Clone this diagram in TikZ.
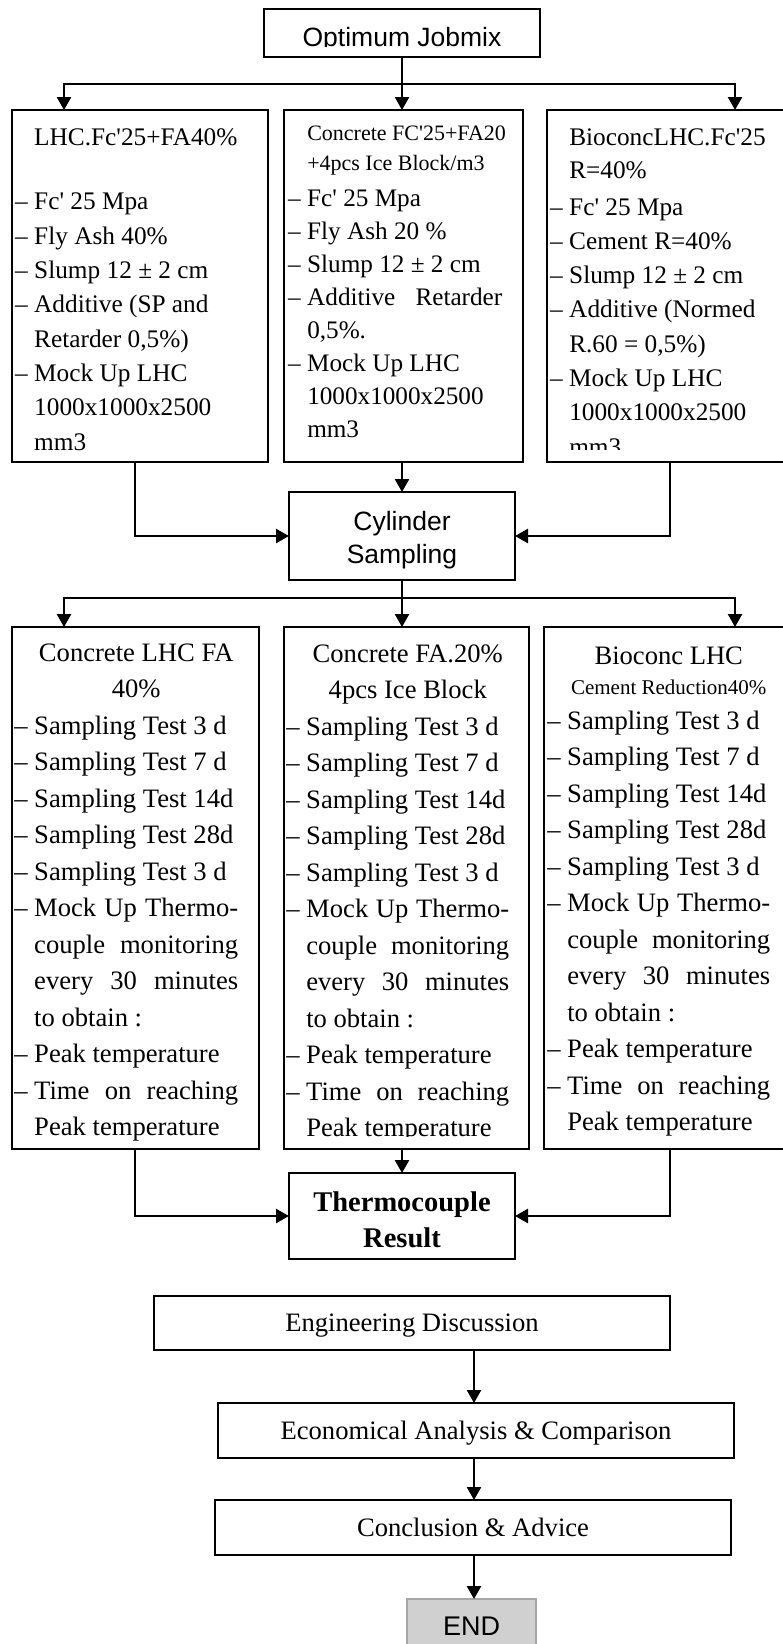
\documentclass[tikz,border=0pt]{standalone}
\usepackage{fontspec}
\setmainfont{Liberation Serif}
\newfontfamily\arialfont{Liberation Sans}
\usetikzlibrary{positioning, calc}
\usetikzlibrary{arrows.meta}

\definecolor{endfill}{HTML}{D0D0D0}
\definecolor{endline}{HTML}{A6A6A6}

% list helpers
\newcommand{\jw}{204pt}
\newcommand{\normsp}{\spaceskip=0pt\xspaceskip=0pt\relax}
\newcommand{\dl}{\leavevmode\llap{\textendash\hspace{6.5pt}}}
\newcommand{\jl}[1]{\makebox[\jw][s]{#1}}
\newcommand{\ctl}[1]{\makebox[\jw][c]{#1}}
\newcommand{\qs}{\textquotesingle}

\tikzset{
  box/.style={draw, rectangle, inner sep=0pt, outer sep=0pt},
  txt/.style={anchor=base west, inner sep=0pt, align=left, text width=240pt},
  arr/.style={-{Triangle[width=14pt,length=13pt]}},
  mask/.style={fill=white, draw=none}
}

\begin{document}
\begin{tikzpicture}[x=1pt, y=-1pt, line width=2.5pt]

  % page
  \useasboundingbox (0,0) rectangle (783,1644);
  \clip (0,0) rectangle (783,1644);

  % fonts
  \def\topfont{\fontsize{25.3}{34.3}\selectfont}
  \def\lowfont{\fontsize{26.6}{36.5}\selectfont}
  \def\smallfont{\fontsize{22}{33}\selectfont}
  \def\headfont{\arialfont\fontsize{26.5}{33}\selectfont}

  % start
  \node[box, minimum width=276pt, minimum height=48pt, font=\headfont,
        text height=26pt, text depth=0pt] (jobmix) at (402,33) {Optimum Jobmix};
  \fill[mask] (265.5,46.5) rectangle (538.5,55.5);

  % top boxes
  \node[box, anchor=north west, minimum width=256pt, minimum height=352pt] (box1) at (12,110) {};
  \node[box, anchor=north west, minimum width=239pt, minimum height=352pt] (box2) at (284,110) {};
  \node[box, anchor=north west, minimum width=260pt, minimum height=352pt] (box3) at (547,110) {};

  \node[txt, font=\topfont] (list1) at (33,145) {\normsp
    LHC.Fc\qs 25+FA40\%\\[30.6pt]
    \dl Fc\qs\ 25 Mpa\\
    \dl Fly Ash 40\%\\
    \dl Slump 12 \textpm\ 2 cm\\
    \dl Additive (SP and\\
    Retarder 0,5\%)\\
    \dl Mock Up LHC\\
    1000x1000x2500\\
    mm3};

  \node[txt, font=\fontsize{25.2}{33.1}\selectfont] (list2) at (306,140) {\normsp
    \def\jw{195pt}%
    {\smallfont Concrete FC\qs 25+FA20}\\[-3.1pt]
    {\smallfont +4pcs Ice Block/m3}\\[2.9pt]
    \dl Fc\qs\ 25 Mpa\\
    \dl Fly Ash 20 \%\\
    \dl Slump 12 \textpm\ 2 cm\\
    \dl\jl{Additive Retarder}\\
    0,5\%.\\
    \dl Mock Up LHC\\
    1000x1000x2500\\
    mm3};

  \node[txt, font=\topfont] (list3) at (568,145) {\normsp
    BioconcLHC.Fc\qs 25\\[-1.3pt]
    R=40\%\\[2.7pt]
    \dl Fc\qs\ 25 Mpa\\
    \dl Cement R=40\%\\
    \dl Slump 12 \textpm\ 2 cm\\
    \dl Additive (Normed\\
    R.60 = 0,5\%)\\
    \dl Mock Up LHC\\
    1000x1000x2500\\
    mm3};
  \fill[mask] (548.5,450) rectangle (790,460.5);

  % sampling
  \node[box, anchor=north west, minimum width=226pt, minimum height=88pt] (cyl) at (289,492) {};
  \node[anchor=base, inner sep=0pt, align=center, text width=226pt, font=\headfont] (cyltext) at (402,530) {Cylinder\\Sampling};

  % lower boxes
  \node[box, anchor=north west, minimum width=247pt, minimum height=522pt] (box4) at (12,627) {};
  \node[box, anchor=north west, minimum width=245pt, minimum height=522pt] (box5) at (284,627) {};
  \node[box, anchor=north west, minimum width=260pt, minimum height=522pt] (box6) at (544,627) {};

  \node[txt, font=\lowfont] (list4) at (33,661) {\normsp
    \def\jw{204pt}%
    \ctl{Concrete LHC FA}\\
    \ctl{40\%}\\
    \dl Sampling Test 3 d\\
    \dl Sampling Test 7 d\\
    \dl Sampling Test 14d\\
    \dl Sampling Test 28d\\
    \dl Sampling Test 3 d\\
    \dl\jl{Mock Up Thermo-}\\
    \jl{couple monitoring}\\
    \jl{every 30 minutes}\\
    to obtain :\\
    \dl Peak temperature\\
    \dl\jl{Time on reaching}\\
    Peak temperature};

  \node[txt, font=\lowfont] (list5) at (305,662) {\normsp
    \def\jw{203pt}%
    \ctl{Concrete FA.20\%}\\
    \ctl{4pcs Ice Block}\\
    \dl Sampling Test 3 d\\
    \dl Sampling Test 7 d\\
    \dl Sampling Test 14d\\
    \dl Sampling Test 28d\\
    \dl Sampling Test 3 d\\
    \dl\jl{Mock Up Thermo-}\\
    \jl{couple monitoring}\\
    \jl{every 30 minutes}\\
    to obtain :\\
    \dl Peak temperature\\
    \dl\jl{Time on reaching}\\
    Peak temperature};
  \fill[mask] (285.5,1137) rectangle (527.5,1147.5);

  \node[txt, font=\lowfont] (list6) at (566,664) {\normsp
    \def\jw{203pt}%
    \ctl{Bioconc LHC}\\[-6.5pt]
    {\fontsize{21}{36.5}\selectfont\ctl{Cement Reduction40\%}}\\[-1.5pt]
    \dl Sampling Test 3 d\\
    \dl Sampling Test 7 d\\
    \dl Sampling Test 14d\\
    \dl Sampling Test 28d\\
    \dl Sampling Test 3 d\\
    \dl\jl{Mock Up Thermo-}\\
    \jl{couple monitoring}\\
    \jl{every 30 minutes}\\
    to obtain :\\
    \dl Peak temperature\\
    \dl\jl{Time on reaching}\\
    Peak temperature};

  % result
  \node[box, anchor=north west, minimum width=226pt, minimum height=86pt] (thermo) at (289,1173) {};
  \node[anchor=base, inner sep=0pt, align=center, text width=226pt,
        font=\bfseries\fontsize{28.5}{36}\selectfont] (thermotext) at (402,1211) {Thermocouple\\Result};

  % closing steps
  \node[box, minimum width=516pt, minimum height=54pt, font=\lowfont,
        text height=17.6pt, text depth=0pt] (eng) at (412,1323) {Engineering Discussion};
  \node[box, minimum width=516pt, minimum height=55pt, font=\lowfont,
        text height=17.6pt, text depth=0pt] (econ) at (476,1430.5) {Economical Analysis \& Comparison};
  \node[box, minimum width=516pt, minimum height=55pt, font=\lowfont,
        text height=17.6pt, text depth=0pt] (concl) at (473,1527.5) {Conclusion \& Advice};
  \node[box, draw=endline, fill=endfill, line width=1.3pt, minimum width=129pt, minimum height=61pt,
        font=\arialfont\fontsize{27}{30}\selectfont, text height=19.3pt, text depth=8.3pt] (finish) at (471.5,1629.5) {END};

  % arrows top
  \coordinate (bus1) at (402,84);
  \coordinate (in1) at (64,110);
  \coordinate (in3) at (735,110);
  \draw (jobmix.south) -- (bus1);
  \draw[arr] (bus1) -| (in1);
  \draw[arr] (bus1) -- (bus1 |- box2.north);
  \draw[arr] (bus1) -| (in3);

  \coordinate (out1) at (135,462);
  \coordinate (out3) at (670,462);
  \draw[arr] (out1) |- (cyl.west);
  \draw[arr] (out3) |- (cyl.east);
  \draw[arr] (box2.south -| cyl.north) -- (cyl.north);

  % arrows middle
  \coordinate (bus2) at (402,598);
  \coordinate (in4) at (64,627);
  \coordinate (in6) at (735,627);
  \draw (cyl.south) -- (bus2);
  \draw[arr] (bus2) -| (in4);
  \draw[arr] (bus2) -- (bus2 |- box5.north);
  \draw[arr] (bus2) -| (in6);

  \coordinate (out4) at (135,1149);
  \coordinate (out6) at (670,1149);
  \draw[arr] (out4) |- (thermo.west);
  \draw[arr] (out6) |- (thermo.east);
  \draw[arr] (box5.south -| thermo.north) -- (thermo.north);

  % arrows bottom
  \coordinate (drop) at (474,0);
  \draw[arr] (eng.south -| drop) -- (econ.north -| drop);
  \draw[arr] (econ.south -| drop) -- (concl.north -| drop);
  \draw[arr] (concl.south -| drop) -- (finish.north -| drop);

\end{tikzpicture}
\end{document}
